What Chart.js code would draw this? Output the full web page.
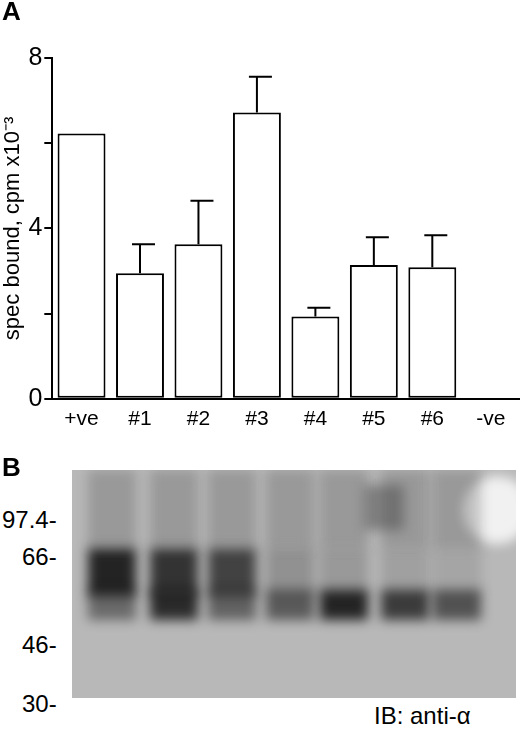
<!DOCTYPE html>
<html>
<head>
<meta charset="utf-8">
<script src="https://cdn.jsdelivr.net/npm/chart.js@4.4.0/dist/chart.umd.min.js"></script>
<style>
  body { margin: 0; background: #fff; width: 520px; height: 734px; position: relative; font-family: "Liberation Sans", Arial, sans-serif; overflow: hidden; }
  #wrapA { position: absolute; left: 0; top: 0; width: 520px; height: 440px; }
  .lbl { position: absolute; font-size: 24px; color: #000; }
  .panel { position: absolute; font-weight: bold; font-size: 26px; }
  #blot { position: absolute; left: 72px; top: 470px; }
</style>
</head>
<body>
<div id="wrapA"><canvas id="barChart" width="520" height="440"></canvas></div>
<div class="panel" style="left:2px;top:-4px">A</div>
<div class="panel" style="left:2px;top:452px">B</div>
<canvas id="blot" width="444" height="228"></canvas>
<div class="lbl" style="left:2px;top:506px">97.4-</div>
<div class="lbl" style="left:22px;top:543px">66-</div>
<div class="lbl" style="left:22px;top:631px">46-</div>
<div class="lbl" style="left:22px;top:690px">30-</div>
<div class="lbl" style="left:374px;top:702px">IB: anti-α</div>
<script>
var categories = ["+ve", "#1", "#2", "#3", "#4", "#5", "#6", "-ve"];
var means = [6.23, 2.95, 3.63, 6.72, 1.93, 3.14, 3.09, 0];
var errors = [0, 0.68, 1.02, 0.84, 0.21, 0.65, 0.75, 0];
var yTicks = [0, 2, 4, 6, 8];
var yLabels = { 0: "0", 4: "4", 8: "8" };

// upper error bars with caps
const errorBars = {
  id: "errorBars",
  afterDatasetsDraw(chart) {
    const ctx = chart.ctx;
    const y = chart.scales.y;
    const meta = chart.getDatasetMeta(0);
    ctx.save();
    ctx.strokeStyle = "#000";
    ctx.lineWidth = 2;
    meta.data.forEach((bar, i) => {
      if (!errors[i]) return;
      const top = y.getPixelForValue(means[i] + errors[i]);
      const base = y.getPixelForValue(means[i]);
      ctx.beginPath();
      ctx.moveTo(bar.x, base);
      ctx.lineTo(bar.x, top);
      ctx.moveTo(bar.x - 8, top);
      ctx.lineTo(bar.x + 15, top);
      ctx.stroke();
    });
    ctx.restore();
  },
};

new Chart("barChart", {
  type: "bar",
  data: {
    labels: categories,
    datasets: [{
      data: means,
      backgroundColor: "#fff",
      borderColor: "#000",
      borderWidth: 2,
      borderSkipped: false,
      categoryPercentage: 0.82,
      barPercentage: 1,
    }],
  },
  options: {
    responsive: false,
    animation: false,
    layout: { padding: { left: 0, right: 0, top: 58, bottom: 0 } },
    plugins: { legend: { display: false }, tooltip: { enabled: false } },
    scales: {
      x: {
        grid: { display: false, drawTicks: false },
        border: { color: "#000", width: 2 },
        ticks: { color: "#000", font: { size: 21, family: "Liberation Sans" }, padding: 8 },
      },
      y: {
        min: 0, max: 8,
        afterBuildTicks: (s) => { s.ticks = yTicks.map((v) => ({ value: v })); },
        grid: { display: true, drawOnChartArea: false, drawTicks: true, tickLength: 8, color: "#000", lineWidth: 2 },
        border: { color: "#000", width: 2 },
        ticks: { color: "#000", font: { size: 25, family: "Liberation Sans" }, padding: 2,
          callback: (v) => yLabels[v] || "" },
        title: { display: true, text: "spec bound, cpm x10⁻³", color: "#000",
          font: { size: 22, family: "Liberation Sans" }, padding: 0 },
      },
    },
  },
  plugins: [errorBars],
});

// panel B: immunoblot backdrop (illustrative)
var lanes = [40, 102, 160, 218, 272, 333, 385];
var bandUpper = [0.95, 0.85, 0.75, 0.25, 0.2, 0.15, 0.12];
var bandLower = [0.5, 0.9, 0.55, 0.6, 0.95, 0.8, 0.65];
const b = document.getElementById("blot").getContext("2d");
b.fillStyle = "#b8b8b8";
b.fillRect(0, 0, 444, 228);
b.filter = "blur(6px)";
b.fillStyle = "rgba(255,255,255,0.8)";
b.beginPath(); b.arc(425, 40, 34, 0, Math.PI * 2); b.fill();
b.fillStyle = "rgba(80,80,80,0.5)";
b.fillRect(292, 15, 40, 45);
lanes.forEach((x, i) => {
  b.fillStyle = "rgba(0,0,0," + (bandUpper[i] * 0.85) + ")";
  b.fillRect(x - 24, 78, 48, 48);
  b.fillStyle = "rgba(0,0,0," + (bandLower[i] * 0.85) + ")";
  b.fillRect(x - 24, 120, 48, 30);
  b.fillStyle = "rgba(60,60,60,0.25)";
  b.fillRect(x - 24, 0, 48, 78);
});
</script>
</body>
</html>
